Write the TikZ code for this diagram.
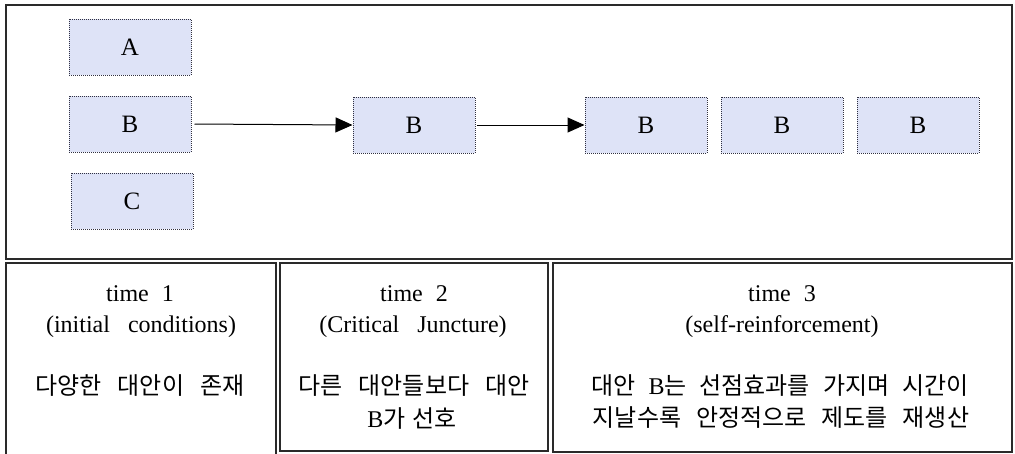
\documentclass[tikz,border=0pt]{standalone}
\usepackage{fontspec}
\setmainfont{Liberation Serif}
\newfontfamily\kr{Noto Sans CJK KR}
\usetikzlibrary{arrows.meta}
\definecolor{boxfill}{HTML}{DEE3F7}
\definecolor{boxline}{HTML}{303040}
\definecolor{frameline}{HTML}{2A2A2A}
% wide inter-word gaps as set in the table cells
\newcommand\gap[1]{\spaceskip=#1\relax\xspaceskip=#1\relax}
\newcommand\romanB{{\rmfamily\fontsize{24}{28}\selectfont B}}
\tikzset{
  altbox/.style={draw=boxline, fill=boxfill, line width=1pt,
    dash pattern=on 1pt off 1pt, rectangle, inner sep=0pt,
    minimum width=122pt, minimum height=56pt,
    font=\fontsize{25}{28}\selectfont},
  flow/.style={draw=black, line width=1pt,
    -{Triangle[length=17pt,width=15pt]}},
  panel/.style={draw=frameline, line width=1.3pt},
  latinline/.style={inner sep=0pt, font=\fontsize{24}{28}\selectfont},
  krline/.style={inner sep=0pt, font=\kr\fontsize{24}{28}\selectfont}
}
\begin{document}
\begin{tikzpicture}[x=1pt,y=-1pt]
  \useasboundingbox (0,0) rectangle (1015,453);
  % upper panel with the alternatives
  \draw[panel] (6,5) rectangle (1012,259);
  \node[altbox] (a)  at (130,47)  {A};
  \node[altbox] (b1) at (130,124) {B};
  \node[altbox] (c)  at (132,201) {C};
  \node[altbox] (b2) at (414,125) {B};
  \node[altbox] (b3) at (646,125) {B};
  \node[altbox] (b4) at (782,125) {B};
  \node[altbox] (b5) at (918,125) {B};
  \draw[flow] ([xshift=3pt]b1.east) -- (b2.west);
  \draw[flow] ([xshift=1pt]b2.east) -- (b3.west);
  % lower panels, one per period
  \draw[panel] (6,263) rectangle (276,455);
  \draw[panel] (280,263) rectangle (548,451);
  \draw[panel] (553,263) rectangle (1012,452);
  % period 1
  \node[latinline] (t1a) at (140,294) {\gap{13pt}time 1};
  \node[latinline] (t1b) at (141,327) {\gap{18pt}(initial conditions)};
  \node[krline] (t1c) at (140,386) {\gap{16pt}다양한 대안이 존재};
  % period 2
  \node[latinline] (t2a) at (414,294) {\gap{13pt}time 2};
  \node[latinline] (t2b) at (413,327) {\gap{18pt}(Critical Juncture)};
  \node[krline] (t2c) at (414,386) {\gap{16pt}다른 대안들보다 대안};
  \node[krline] (t2d) at (412,418) {\gap{7pt}\romanB 가 선호};
  % period 3
  \node[latinline] (t3a) at (782,294) {\gap{13pt}time 3};
  \node[latinline] (t3b) at (782,327) {\gap{18pt}(self-reinforcement)};
  \node[krline] (t3c) at (780,386) {\gap{13pt}대안 \romanB 는 선점효과를 가지며 시간이};
  \node[krline] (t3d) at (781,418) {\gap{15pt}지날수록 안정적으로 제도를 재생산};
\end{tikzpicture}
\end{document}
